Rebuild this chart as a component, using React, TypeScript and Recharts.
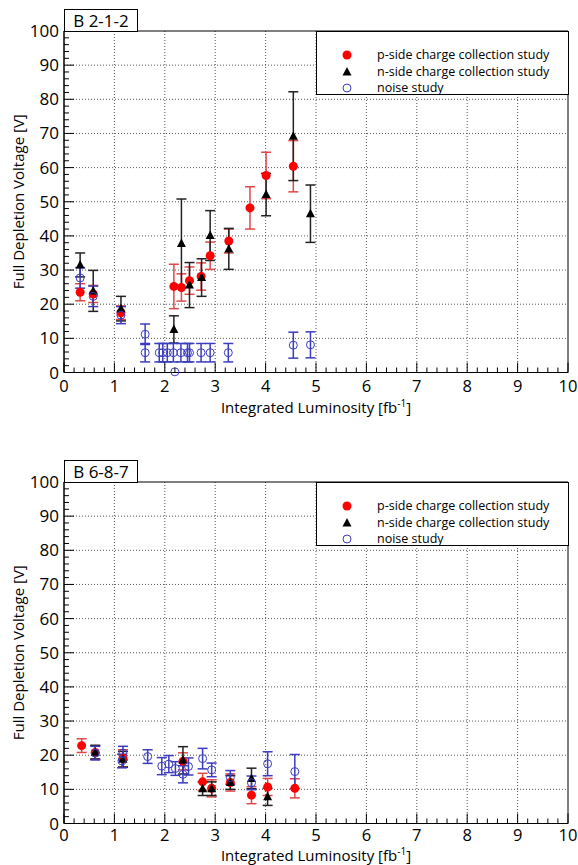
import React from "react";
import {
  ScatterChart, Scatter, XAxis, YAxis, CartesianGrid, ErrorBar, ReferenceArea,
} from "recharts";

// each point: [integrated luminosity (fb^-1), full depletion voltage (V), error (V)]
const topPSide = [
  [0.32, 23.5, 2.5], [0.58, 23.0, 2.5], [1.13, 17.5, 2.0], [2.18, 25.2, 6.5],
  [2.33, 24.9, 4.0], [2.49, 26.9, 4.0], [2.72, 28.1, 4.0], [2.9, 34.2, 4.0],
  [3.27, 38.5, 3.5], [3.69, 48.2, 6.2], [4.01, 57.7, 6.8], [4.55, 60.4, 7.5],
];
const topNSide = [
  [0.32, 31.5, 3.5], [0.58, 23.9, 6.0], [1.13, 18.7, 3.6], [2.18, 12.6, 4.0],
  [2.33, 37.8, 13.0], [2.49, 25.6, 6.6], [2.73, 27.8, 5.5], [2.9, 40.1, 7.3],
  [3.27, 36.2, 6.0], [4.01, 52.1, 6.2], [4.55, 69.2, 13.0], [4.89, 46.5, 8.4],
];
const topNoise = [
  [0.32, 27.7, 3.0], [0.58, 22.3, 3.0], [1.13, 16.8, 2.5], [1.61, 11.2, 3.0],
  [1.61, 5.8, 2.7], [1.89, 5.8, 2.7], [1.96, 5.8, 2.7], [2.05, 5.8, 2.7],
  [2.17, 5.8, 2.7], [2.2, 0.2, null], [2.32, 5.8, 2.7], [2.45, 5.8, 2.7],
  [2.49, 5.8, 2.7], [2.72, 5.8, 2.7], [2.9, 5.8, 2.7], [3.26, 5.8, 2.7],
  [4.55, 8.0, 3.8], [4.89, 8.1, 3.8],
];

const botPSide = [
  [0.35, 22.8, 2.0], [0.62, 20.8, 2.0], [1.17, 19.1, 2.5], [2.36, 18.2, 2.5],
  [2.75, 12.2, 2.5], [2.93, 10.3, 2.5], [3.3, 12.0, 2.5], [3.72, 8.3, 2.5],
  [4.04, 10.7, 2.5], [4.58, 10.3, 2.8],
];
const botNSide = [
  [0.62, 20.9, 2.0], [1.17, 18.8, 2.3], [2.36, 18.5, 4.0], [2.75, 10.2, 2.0],
  [2.93, 10.2, 2.0], [3.3, 12.0, 2.0], [3.72, 13.2, 3.0], [4.04, 7.8, 2.5],
];
const botNoise = [
  [0.62, 20.6, 2.0], [1.17, 20.6, 2.0], [1.15, 18.3, 2.0], [1.66, 19.6, 2.0],
  [1.94, 16.8, 2.5], [2.08, 17.4, 2.5], [2.21, 16.1, 2.0], [2.36, 14.4, 2.5],
  [2.47, 16.7, 2.5], [2.75, 19.0, 3.0], [2.93, 15.7, 2.0], [3.3, 13.5, 2.0],
  [3.72, 11.9, 2.0], [4.04, 17.5, 3.5], [4.58, 15.2, 5.0],
];

const panelTitles = ["B 2-1-2", "B 6-8-7"];
const legendLabels = [
  "p-side charge collection study",
  "n-side charge collection study",
  "noise study",
];
const xGrid = [1, 2, 3, 4, 5, 6, 7, 8, 9];
const yGrid = [10, 20, 30, 40, 50, 60, 70, 80, 90];
// tick marks every 0.2 on x and every 2 on y (labels only on the integers / tens)
const xTicks = Array.from({ length: 51 }, (_, i) => i / 5);
const yTicks = Array.from({ length: 51 }, (_, i) => i * 2);

const FONT = "'Open Sans', sans-serif";
const RED = "#f00";
const BLUE = "#3c3cc0";

const rows = (pts: any[]) => pts.map(([x, y, err]) => ({ x, y, err }));

const RedDot = (p: any) => <circle cx={p.cx} cy={p.cy} r={4.5} fill={RED} />;
const BlackTri = (p: any) => (
  <polygon
    points={`${p.cx},${p.cy - 5} ${p.cx - 4.5},${p.cy + 3.5} ${p.cx + 4.5},${p.cy + 3.5}`}
    fill="#000"
  />
);
const BlueRing = (p: any) => (
  <circle cx={p.cx} cy={p.cy} r={4} fill="none" stroke={BLUE} strokeWidth={1} />
);

const XTick = ({ x, y, payload, lift }: any) => {
  const v = payload.value;
  const major = Math.abs(v - Math.round(v)) < 1e-6;
  return (
    <g>
      <line x1={x} x2={x} y1={y} y2={y - (major ? 10 : 5)} stroke="#000" />
      {major && (
        <text x={x} y={y + lift} textAnchor="middle" fontSize={16.5} fontFamily={FONT} fill="#000">
          {Math.round(v)}
        </text>
      )}
    </g>
  );
};

const YTick = ({ x, y, payload }: any) => {
  const v = payload.value;
  const major = v % 10 === 0;
  return (
    <g>
      <line x1={x} x2={x + (major ? 10 : 5)} y1={y} y2={y} stroke="#000" />
      {major && (
        <text x={x - 5} y={y + 6} textAnchor="end" fontSize={17} fontFamily={FONT} fill="#000">
          {v}
        </text>
      )}
    </g>
  );
};

const XTitle = ({ viewBox, shift }: any) => {
  const cx = viewBox ? viewBox.x + viewBox.width / 2 : 316;
  const y = viewBox ? viewBox.y + shift : 412;
  return (
    <text x={cx} y={y} textAnchor="middle" fontSize={15} fontFamily={FONT} fill="#000">
      Integrated Luminosity [fb
      <tspan dy={-6} fontSize={10}>-1</tspan>
      <tspan dy={6}>]</tspan>
    </text>
  );
};

const YTitle = ({ viewBox }: any) => {
  const cy = viewBox ? viewBox.y + viewBox.height / 2 : 202;
  const cx = 18;
  return (
    <text
      x={cx} y={cy} transform={`rotate(-90, ${cx}, ${cy})`}
      textAnchor="middle" dominantBaseline="central"
      fontSize={15} fontFamily={FONT} fill="#000"
    >
      Full Depletion Voltage [V]
    </text>
  );
};

const legendMarkers = [
  <circle key="p" cx={6} cy={6} r={4.5} fill={RED} />,
  <polygon key="n" points="6,1 1.5,9.5 10.5,9.5" fill="#000" />,
  <circle key="o" cx={6} cy={6} r={4} fill="none" stroke={BLUE} />,
];

function Panel({ title, pSide, nSide, noise, top, height, titleShift, tickLift }: any) {
  return (
    <div style={{ position: "absolute", left: 0, top, width: 578, height }}>
      <ScatterChart width={578} height={height} margin={{ top: 31, right: 10, left: 0, bottom: 0 }}>
        <CartesianGrid
          horizontalValues={yGrid}
          verticalValues={xGrid}
          stroke="#555"
          strokeDasharray="1 2"
        />
        <XAxis
          type="number" dataKey="x" domain={[0, 10]} ticks={xTicks} interval={0}
          tickSize={0} tickMargin={0} height={height - 31 - 341.5}
          axisLine={{ stroke: "#000" }} tick={<XTick lift={tickLift} />}
          label={<XTitle shift={titleShift} />}
        />
        <YAxis
          type="number" dataKey="y" domain={[0, 100]} ticks={yTicks} interval={0}
          tickSize={0} tickMargin={0} width={64}
          axisLine={{ stroke: "#000" }} tick={<YTick />} label={<YTitle />}
        />
        <ReferenceArea x1={0} x2={10} y1={0} y2={100} fill="none" stroke="#000" ifOverflow="visible" />
        <Scatter data={rows(pSide)} shape={RedDot} isAnimationActive={false}>
          <ErrorBar dataKey="err" direction="y" width={5} stroke="#e04848" isAnimationActive={false} />
        </Scatter>
        <Scatter data={rows(nSide)} shape={BlackTri} isAnimationActive={false}>
          <ErrorBar dataKey="err" direction="y" width={5} stroke="#222" isAnimationActive={false} />
        </Scatter>
        <Scatter data={rows(noise)} shape={BlueRing} isAnimationActive={false}>
          <ErrorBar dataKey="err" direction="y" width={5} stroke={BLUE} isAnimationActive={false} />
        </Scatter>
      </ScatterChart>

      <div
        style={{
          position: "absolute", left: 64, top: 9, width: 74, height: 23, boxSizing: "border-box",
          border: "1px solid #000", background: "#fff", fontFamily: FONT, fontSize: 17,
          lineHeight: "21px", textAlign: "center", color: "#000",
        }}
      >
        {title}
      </div>

      <div
        style={{
          position: "absolute", left: 316, top: 31, width: 253, height: 64, boxSizing: "border-box",
          border: "1px solid #000", background: "#fff", fontFamily: FONT, fontSize: 12.5, color: "#000",
        }}
      >
        {legendLabels.map((lab, i) => (
          <div key={lab} style={{ position: "absolute", left: 0, top: 15 + i * 16.5, height: 16, width: 250 }}>
            <svg width={12} height={12} style={{ position: "absolute", left: 24, top: 2 }}>
              {legendMarkers[i]}
            </svg>
            <span style={{ position: "absolute", left: 60, top: 0, lineHeight: "16px", whiteSpace: "nowrap" }}>
              {lab}
            </span>
          </div>
        ))}
      </div>
    </div>
  );
}

export default function App() {
  return (
    <div style={{ position: "absolute", left: 0, top: 0, width: 578, height: 865, background: "#fff" }}>
      <Panel title={panelTitles[0]} pSide={topPSide} nSide={topNSide} noise={topNoise}
        top={0} height={421} titleShift={40} tickLift={19} />
      <Panel title={panelTitles[1]} pSide={botPSide} nSide={botNSide} noise={botNoise}
        top={451} height={414} titleShift={37.5} tickLift={17} />
    </div>
  );
}
